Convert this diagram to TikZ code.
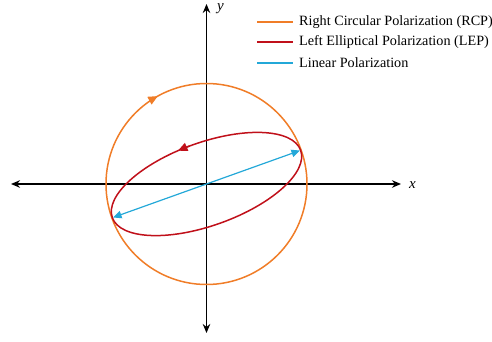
\documentclass[tikz,border=0pt]{standalone}
\usepackage{fontspec}
\setmainfont{Liberation Serif}
\usetikzlibrary{arrows.meta}
\definecolor{rcp}{RGB}{240,125,40}
\definecolor{lep}{RGB}{192,16,26}
\definecolor{linp}{RGB}{35,168,216}
\tikzset{
  axis/.style={line width=1.4pt, black, -{Stealth[length=9pt,width=7.5pt]}},
  curve/.style={line width=1.5pt},
  tipmark/.style={-{Triangle[length=9.5pt,width=8.5pt]}},
  legline/.style={line width=1.8pt},
  legtext/.style={anchor=west, inner sep=0pt, font=\fontsize{14.2}{16}\selectfont},
}
\begin{document}
\begin{tikzpicture}[x=1pt,y=1pt]
\useasboundingbox (-206.5,-158) rectangle (285.5,184);
\coordinate (O) at (0,0);
\coordinate (xl) at (-195.5,0);
\coordinate (xr) at (194.5,0);
\coordinate (yt) at (0,180);
\coordinate (yb) at (0,-149);
\draw[axis] (O) -- (xl);
\draw[axis] (O) -- (xr);
\draw[axis] (O) -- (yt);
\draw[axis] (O) -- (yb);
\node[font=\fontsize{15}{17}\selectfont\itshape, anchor=west] (xlab) at (199,-1) {x};
\node[font=\fontsize{15}{17}\selectfont\itshape, anchor=west] (ylab) at (7,175) {y};
% circle (RCP)
\draw[curve, rcp] (O) circle[radius=100.5];
\draw[curve, rcp, tipmark] (O) ++(124:100.5) arc[start angle=124, end angle=119, radius=100.5];
% ellipse (LEP)
\begin{scope}[rotate=19.7]
\draw[curve, lep] (O) ellipse[x radius=100, y radius=41.5];
\draw[curve, lep, tipmark] ({100*cos(92)},{41.5*sin(92)}) arc[start angle=92, end angle=99, x radius=100, y radius=41.5];
\coordinate (pa) at (99.3,0);
\coordinate (pb) at (-99.3,0);
\end{scope}
% linear
\draw[line width=1.2pt, linp, {Triangle[length=8.5pt,width=7.5pt]}-{Triangle[length=8.5pt,width=7.5pt]}] (pb) -- (pa);
% legend
\coordinate (l1a) at (50.5,162.3); \coordinate (l1b) at (86.5,162.3);
\coordinate (l2a) at (50.5,142.3); \coordinate (l2b) at (86.5,142.3);
\coordinate (l3a) at (50.5,121.2); \coordinate (l3b) at (86.5,121.2);
\draw[legline, rcp] (l1a) -- (l1b);
\draw[legline, lep] (l2a) -- (l2b);
\draw[legline, linp] (l3a) -- (l3b);
\node[legtext] (t1) at (92.5,162.3) {Right Circular Polarization (RCP)};
\node[legtext] (t2) at (92.5,142.3) {Left Elliptical Polarization (LEP)};
\node[legtext] (t3) at (92.5,121.2) {Linear Polarization};
\end{tikzpicture}
\end{document}
